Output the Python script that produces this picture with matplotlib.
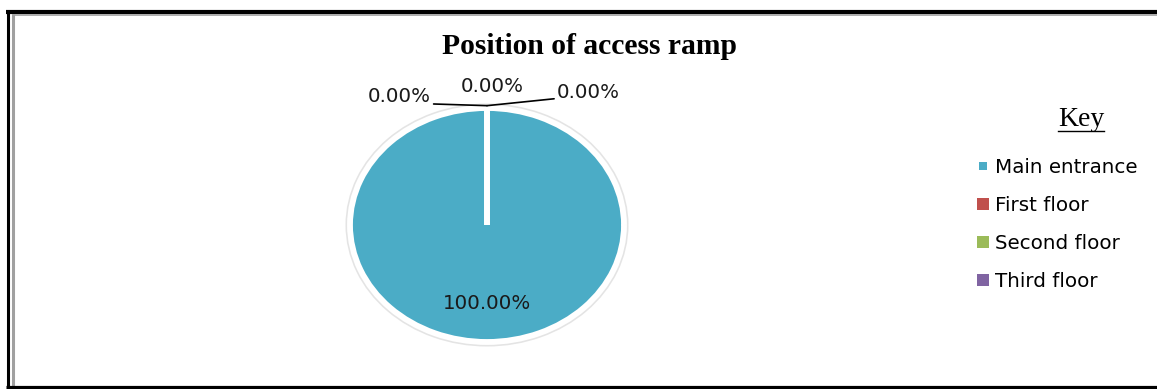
import matplotlib
matplotlib.use("Agg")
import matplotlib.pyplot as plt
import matplotlib.patheffects as pe
from matplotlib.lines import Line2D
import numpy as np

# data
categories = ["Main entrance", "First floor", "Second floor", "Third floor"]
values = [100.0, 0.0, 0.0, 0.0]
colors = ["#4BACC6", "#C0504D", "#9BBB59", "#8064A2"]
title = "Position of access ramp"

W, H = 1157, 389
fig = plt.figure(figsize=(W / 100, H / 100), dpi=100)
fig.patch.set_facecolor("white")


def px(x, y):
    return x / W, 1 - y / H


# pie axes, stretched to an ellipse like the original
ax = fig.add_axes([350 / W, 1 - 342 / H, 274 / W, 234 / H])
wedges, _ = ax.pie(values, colors=colors, startangle=90, counterclock=True,
                   wedgeprops=dict(edgecolor="white", linewidth=4.2))
ax.set_aspect("auto")
ax.set_xlim(-1, 1)
ax.set_ylim(-1, 1)
wedges[0].set_path_effects([pe.Stroke(linewidth=6.5, foreground="#e4e4e4"), pe.Normal()])
for w in wedges[1:]:
    w.set_zorder(3)

total = sum(values)
pct = [f"{v / total * 100:.2f}%" for v in values]
lab_font = dict(family="DejaVu Sans", fontsize=14.3, color="#1a1a1a")

# big slice label
mid = np.deg2rad((wedges[0].theta1 + wedges[0].theta2) / 2)
ax.text(0.675 * np.cos(mid), 0.675 * np.sin(mid), pct[0], ha="center", va="center", **lab_font)

# zero slices: labels pulled out with leader lines
ang = np.deg2rad(wedges[1].theta1)
tip = (1.02 * np.cos(ang), 1.02 * np.sin(ang))
ax.annotate(pct[1], xy=tip, xytext=(-0.41, 1.10), ha="right", va="center",
            arrowprops=dict(arrowstyle="-", color="black", lw=1.2, relpos=(1, 0.1),
                            shrinkA=0, shrinkB=0), annotation_clip=False, **lab_font)
ax.annotate(pct[2], xy=tip, xytext=(0.036, 1.18), ha="center", va="center",
            annotation_clip=False, **lab_font)
ax.annotate(pct[3], xy=tip, xytext=(0.51, 1.13), ha="left", va="center",
            arrowprops=dict(arrowstyle="-", color="black", lw=1.2, relpos=(0, 0.2),
                            shrinkA=0, shrinkB=0), annotation_clip=False, **lab_font)

# title
fig.text(*px(590, 47), title, ha="center", va="center", family="Liberation Serif",
         fontweight="bold", fontsize=21.3)

# key
key = fig.text(*px(1081, 119), "Key", ha="center", va="center", family="Liberation Serif",
               fontsize=20)

handles = []
for i, c in enumerate(colors):
    ms = 5.5 if i == 0 else 9
    handles.append(Line2D([], [], linestyle="none", marker="s", markersize=ms,
                          markerfacecolor=c, markeredgewidth=0))
fig.legend(handles, categories, loc="upper left", bbox_to_anchor=px(975.5, 158),
           frameon=False, borderpad=0, borderaxespad=0, handlelength=0.75,
           handletextpad=0.22, labelspacing=0.95,
           prop=dict(family="DejaVu Sans", size=14.3))

# frame lines around the chart
frame = dict(transform=fig.transFigure, solid_capstyle="butt")
fig.add_artist(Line2D([6 / W, 1], [1 - 12 / H] * 2, color="black", lw=3, **frame))
fig.add_artist(Line2D([12 / W, 1], [1 - 14.8 / H] * 2, color="#a0a0a0", lw=1.2, **frame))
fig.add_artist(Line2D([7.5 / W] * 2, [0, 1 - 10 / H], color="black", lw=2.2, **frame))
fig.add_artist(Line2D([12.5 / W] * 2, [2 / H, 1 - 14 / H], color="#a0a0a0", lw=2.2, **frame))
fig.add_artist(Line2D([6 / W, 1], [1.6 / H] * 2, color="black", lw=2.3, **frame))

# underline for the key heading
fig.canvas.draw()
bb = key.get_window_extent(fig.canvas.get_renderer())
fig.add_artist(Line2D([bb.x0 / W, bb.x1 / W], [(bb.y0 + 1) / H] * 2,
                      transform=fig.transFigure, color="black", lw=1.0))

fig.savefig("out.png", dpi=100)
